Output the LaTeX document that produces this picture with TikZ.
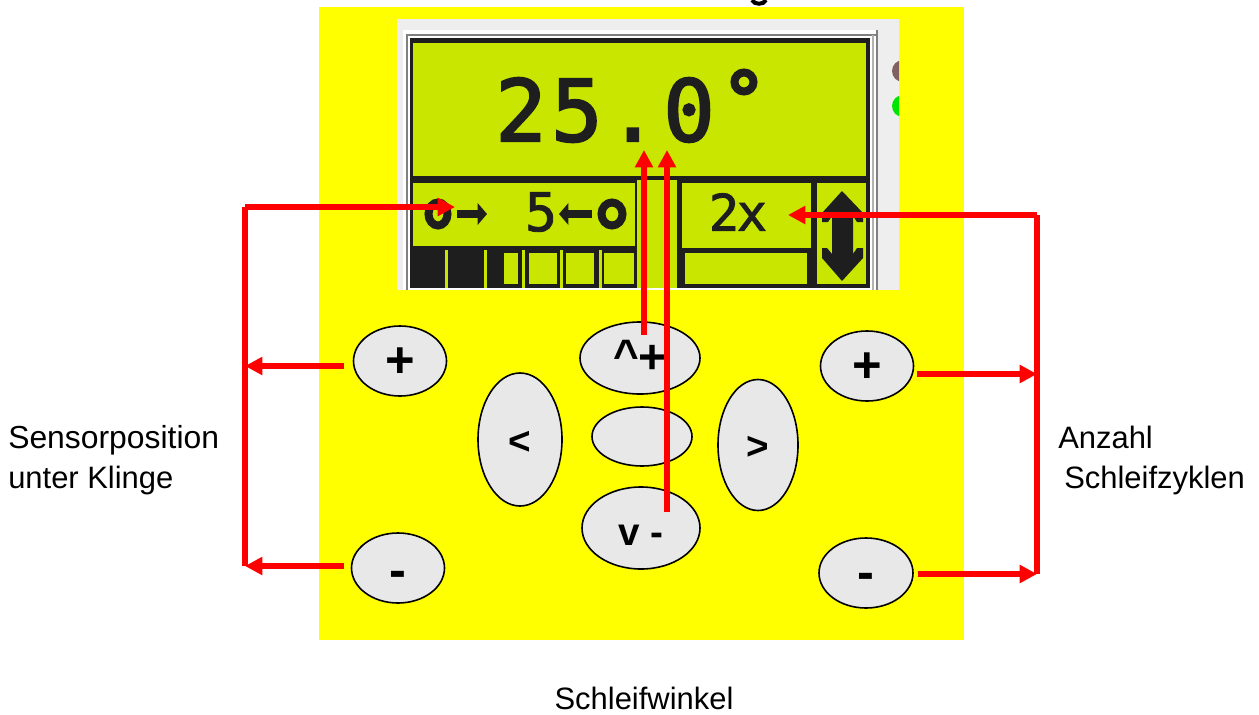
\documentclass[tikz,border=0pt]{standalone}
\usepackage{fontspec}
\setmainfont{Liberation Sans}
\newfontfamily\lcdfont[FakeBold=2.5]{DejaVu Sans Mono}
\newfontfamily\lcdsmall[FakeBold=1.6]{DejaVu Sans Mono}
\usetikzlibrary{arrows.meta, positioning, shapes.geometric, calc}

\definecolor{panelyellow}{RGB}{255,255,0}
\definecolor{lcdgreen}{RGB}{200,230,0}
\definecolor{lcdblack}{RGB}{30,30,30}
\definecolor{keygrey}{RGB}{232,232,232}
\definecolor{framegrey}{RGB}{238,238,238}

\newcommand{\keylabel}[2]{\raisebox{#1}[0pt][0pt]{#2}}

\tikzset{
    keybtn/.style={draw=black, fill=keygrey, ellipse, line width=1.2pt, inner sep=0pt, font=\fontsize{38}{38}\selectfont\bfseries},
    arrowkey/.style={keybtn, font=\fontsize{29}{29}\selectfont\bfseries},
    lcdtext/.style={text=lcdblack, inner sep=0pt},
    symarrow/.style={lcdblack, line width=5.5pt, -{Triangle[length=7pt, width=16pt]}},
    caption/.style={inner sep=0pt, anchor=west, font=\fontsize{23.2}{30}\selectfont},
    redline/.style={draw=red, line width=3.8pt},
    redarrow/.style={redline, -{Triangle[length=13pt, width=13pt]}}
}

\begin{document}
\begin{tikzpicture}[x=0.75pt, y=-0.75pt]
    \useasboundingbox (0,0) rectangle (1259,714);

    % front panel and screenshot
    \fill[panelyellow] (319,7) rectangle (964,640);
    \fill[framegrey] (397,19) rectangle (899,290);
    \begin{scope}
        \clip (880,19) rectangle (899,290);
        \fill[black!50!red!25!gray] (903,71) circle (11);
        \fill[green!90!black] (903,106) circle (11);
    \end{scope}
    \fill[white] (403,30) rectangle (876,290);
    \draw[gray, line width=2.2pt] (407,290) -- (407,35) -- (876,35);
    \draw[gray, line width=2.2pt] (877,30) -- (877,290);
    \draw[gray!60, line width=1.2pt] (873,35) -- (873,290);
    \fill[lcdblack] (410,38) rectangle (870,288);

    % title descender
    \draw[black, line width=3pt] (752,0) .. controls (754,5) and (764,5) .. (766,0);

    % lcd fields
    \fill[lcdgreen] (413,43) rectangle (866,176);
    \fill[lcdgreen] (413,183) rectangle (635,246);
    \fill[lcdgreen] (637,180) rectangle (677,288);
    \fill[lcdgreen] (682,183) rectangle (811,248);
    \fill[lcdgreen] (685,253) rectangle (807,284);
    \fill[lcdgreen] (817,183) rectangle (866,284);

    % bar graph
    \foreach \xa/\xb in {504/518, 529/557, 566/594, 604/634}
        \fill[lcdgreen] (\xa,253) rectangle (\xb,284);
    \foreach \xa in {445, 484, 522, 560, 599}
        \fill[lcdgreen] (\xa,250) rectangle ++(2.5,38);

    % lcd texts
    \node[lcdtext, font=\lcdfont\fontsize{64}{64}\selectfont] (angle) at (605,110) {2\kern3.5pt 5\kern3.5pt .\kern3.5pt 0};
    \draw[lcdblack, line width=6pt] (744,82) circle (9.5);
    \node[lcdtext, font=\lcdsmall\fontsize{40}{40}\selectfont] (five) at (541,212) {5};
    \node[lcdtext, font=\lcdsmall\fontsize{38}{38}\selectfont] (count) at (738,212) {2\kern-2pt x};

    % sensor symbols
    \draw[lcdblack, line width=6pt] (438,214) ellipse (9.5 and 11.5);
    \draw[lcdblack, line width=6pt] (612,214) ellipse (10.5 and 11.5);
    \draw[symarrow] (457,214) -- (487,214);
    \draw[symarrow] (592,214) -- (559,214);

    % up down arrow
    \fill[lcdblack] (842,191) -- (863,213) -- (863,222) -- (857,222) -- (853,216) -- (853,254) -- (857,248) -- (863,248) -- (863,258) -- (842,281) -- (822,258) -- (822,248) -- (827,248) -- (832,254) -- (832,216) -- (828,222) -- (822,222) -- (822,213) -- cycle;

    % keys
    \node[keybtn, minimum width=93*0.75, minimum height=70*0.75] (leftplus) at (400,361) {\keylabel{-12.7pt}{+}};
    \node[keybtn, minimum width=93*0.75, minimum height=70*0.75] (leftminus) at (398,568) {\keylabel{-14.5pt}{-}};
    \node[keybtn, minimum width=93*0.75, minimum height=70*0.75] (rightplus) at (867,366) {\keylabel{-12.7pt}{+}};
    \node[keybtn, minimum width=94*0.75, minimum height=70*0.75] (rightminus) at (866,573) {\keylabel{-12pt}{-}};
    \node[arrowkey, minimum width=120*0.75, minimum height=72*0.75] (upkey) at (640,358) {\keylabel{-9.5pt}{\fontsize{33}{33}\selectfont\textasciicircum}\keylabel{-11.9pt}{\fontsize{36}{36}\selectfont +}};
    \node[keybtn, minimum width=100*0.75, minimum height=59*0.75] (midkey) at (642,436.5) {};
    \node[arrowkey, minimum width=118*0.75, minimum height=82*0.75] (downkey) at (641,528) {\keylabel{-12.75pt}{v -}};
    \node[arrowkey, minimum width=84*0.75, minimum height=133*0.75] (leftkey) at (520,439.5) {\keylabel{-11.6pt}{<}};
    \node[arrowkey, minimum width=80*0.75, minimum height=131*0.75] (rightkey) at (758,445) {\keylabel{-11.1pt}{>}};

    % captions
    \node[caption] (sensor) at (8,460) {\begin{tabular}{@{}l@{}}{\fontsize{23.9}{30}\selectfont Sensorposition}\\unter Klinge\end{tabular}};
    \node[caption] (cycles) at (1058,460) {\begin{tabular}{@{}l@{}}Anzahl\\\hspace{4.5pt}Schleifzyklen\end{tabular}};
    \node[inner sep=0pt, font=\fontsize{23.2}{30}\selectfont] (winkel) at (644,698) {Schleifwinkel};

    % connector ends
    \coordinate (sensorbus) at (245,207);
    \coordinate (sensorbusa) at (245,366);
    \coordinate (sensorbusb) at (245,566);
    \coordinate (sensortip) at (455,207);
    \coordinate (cyclesbus) at (1037,215);
    \coordinate (cyclesbusa) at (1037,374);
    \coordinate (cyclesbusb) at (1037,574);
    \coordinate (cyclestip) at (788,215);
    \coordinate (uptail) at (644,335);
    \coordinate (uptip) at (644,150);
    \coordinate (downtail) at (667,512);
    \coordinate (downtip) at (667,150);

    % red connectors
    \draw[redline] (sensorbus) -- (sensorbusb);
    \draw[redarrow] (sensorbus) -- (sensortip);
    \draw[redarrow] (leftplus.west) ++(-9,5) -- (sensorbusa);
    \draw[redarrow] (leftminus.west) ++(-7,-2) -- (sensorbusb);
    \draw[redline] (cyclesbus) -- (cyclesbusb);
    \draw[redarrow] (cyclesbus) -- (cyclestip);
    \draw[redarrow] (rightplus.east) ++(3,8) -- (cyclesbusa);
    \draw[redarrow] (rightminus.east) ++(4,1) -- (cyclesbusb);
    \draw[redarrow] (uptail) -- (uptip);
    \draw[redarrow] (downtail) -- (downtip);
\end{tikzpicture}
\end{document}
